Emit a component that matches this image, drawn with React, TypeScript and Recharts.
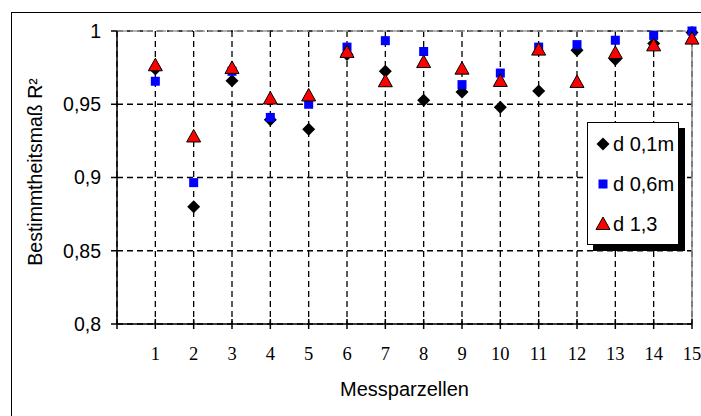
import React from "react";
import {
  CartesianGrid,
  Label,
  Legend,
  ReferenceLine,
  Scatter,
  ScatterChart,
  XAxis,
  YAxis,
} from "recharts";

// Messparzellen 1–15
const plotNumbers = [1, 2, 3, 4, 5, 6, 7, 8, 9, 10, 11, 12, 13, 14, 15];
const xTicks = [0, 1, 2, 3, 4, 5, 6, 7, 8, 9, 10, 11, 12, 13, 14, 15];
const yTicks = [0.8, 0.85, 0.9, 0.95, 1];

// Bestimmtheitsmaß R² je Messhöhe
const r2d01 = [0.974, 0.88, 0.966, 0.9395, 0.933, 0.984, 0.9725, 0.9527, 0.9584, 0.948, 0.959, 0.9868, 0.9805, 0.9914, 0.999];
const r2d06 = [0.9657, 0.8965, 0.9725, 0.941, 0.95, 0.989, 0.9934, 0.986, 0.9634, 0.9713, 0.989, 0.9907, 0.9937, 0.997, 1.0];
const r2d13 = [0.9766, 0.928, 0.9748, 0.9539, 0.956, 0.9857, 0.9657, 0.9788, 0.9743, 0.9659, 0.9873, 0.9652, 0.985, 0.9902, 0.9948];

const sans = '"Liberation Sans", Arial, sans-serif';
const serif = '"Liberation Serif", "Times New Roman", serif';

type MarkerKind = "diamond" | "square" | "triangle";

const series: { name: string; values: number[]; marker: MarkerKind }[] = [
  { name: "d 0,1m", values: r2d01, marker: "diamond" },
  { name: "d 0,6m", values: r2d06, marker: "square" },
  { name: "d 1,3", values: r2d13, marker: "triangle" },
];

const toPoints = (values: number[]) =>
  plotNumbers.map((plot, i) => ({ plot, r2: values[i] }));

function Marker({ kind, cx, cy }: { kind: MarkerKind; cx: number; cy: number }) {
  if (kind === "diamond") {
    return (
      <polygon
        points={`${cx},${cy - 6.5} ${cx + 6.5},${cy} ${cx},${cy + 6.5} ${cx - 6.5},${cy}`}
        fill="#000"
      />
    );
  }
  if (kind === "square") {
    return <rect x={cx - 4.5} y={cy - 4.5} width={9} height={9} fill="#0000ff" />;
  }
  return (
    <polygon
      points={`${cx},${cy - 7} ${cx + 7},${cy + 5.5} ${cx - 7},${cy + 5.5}`}
      fill="#ff0000"
      stroke="#000"
      strokeWidth={1}
    />
  );
}

// x ticks cross the axis line; 0 only gets the mark
function PlotTick(props: any) {
  const { x, y, payload } = props;
  return (
    <g>
      <line x1={x} x2={x} y1={y - 5} y2={y + 5} stroke="#000" strokeWidth={1.5} />
      {payload.value > 0 && (
        <text x={x} y={y + 36} textAnchor="middle" fontFamily={serif} fontSize={18.5} fill="#000">
          {payload.value}
        </text>
      )}
    </g>
  );
}

function LegendBox() {
  return (
    <div
      style={{
        position: "relative",
        width: 92,
        height: 123,
        boxSizing: "border-box",
        border: "1px solid #000",
        background: "#fff",
        boxShadow: "6px 6px 0 #000",
        fontFamily: sans,
        fontSize: 20,
        color: "#000",
      }}
    >
      {series.map((s, i) => (
        <div
          key={s.name}
          style={{
            position: "absolute",
            left: 0,
            top: 9 + i * 40,
            height: 24,
            display: "flex",
            alignItems: "center",
            whiteSpace: "nowrap",
          }}
        >
          <svg width={25} height={24} style={{ display: "block" }}>
            <Marker kind={s.marker} cx={15} cy={12} />
          </svg>
          <span style={{ lineHeight: "24px" }}>{s.name}</span>
        </div>
      ))}
    </div>
  );
}

export default function App() {
  return (
    <div style={{ position: "absolute", left: 0, top: 0, width: 701, height: 416, overflow: "hidden", background: "#fff" }}>
      <div
        style={{
          position: "absolute",
          left: 11,
          top: 12,
          width: 720,
          height: 440,
          border: "1.5px solid #000",
        }}
      />
      <ScatterChart width={701} height={416} margin={{ top: 31, right: 9, bottom: 0, left: 0 }}>
        <CartesianGrid stroke="#000" strokeDasharray="6 4" strokeWidth={1.3} />
        <XAxis
          type="number"
          dataKey="plot"
          domain={[0, 15]}
          ticks={xTicks}
          interval={0}
          height={92}
          tickSize={0}
          tickMargin={0}
          tickLine={false}
          tick={<PlotTick />}
          stroke="#000"
          strokeWidth={1.5}
        >
          <Label
            value="Messparzellen"
            position="insideBottom"
            offset={20}
            style={{ fontFamily: sans, fontSize: 20, fill: "#000" }}
          />
        </XAxis>
        <YAxis
          type="number"
          dataKey="r2"
          domain={[0.8, 1]}
          ticks={yTicks}
          interval={0}
          width={117}
          tickSize={6}
          tickMargin={10}
          tickFormatter={(v: number) => String(v).replace(".", ",")}
          tick={{ fontFamily: sans, fontSize: 19.5, fill: "#000" }}
          stroke="#000"
          strokeWidth={1.5}
        >
          <Label
            content={() => (
              <text
                x={42}
                y={172}
                transform="rotate(-90 42 172)"
                textAnchor="middle"
                fontFamily={sans}
                fontSize={19.5}
                fill="#000"
              >
                Bestimmtheitsmaß R²
              </text>
            )}
          />
        </YAxis>
        <ReferenceLine y={1} stroke="#9a9a9a" strokeWidth={1.5} strokeDasharray="10 3" />
        <ReferenceLine x={15} stroke="#8a8a8a" strokeWidth={1.5} />
        <Legend
          layout="vertical"
          align="center"
          verticalAlign="middle"
          wrapperStyle={{ left: 587, top: 122, width: 92, height: 123 }}
          content={<LegendBox />}
        />
        {series.map((s) => (
          <Scatter
            key={s.name}
            name={s.name}
            data={toPoints(s.values)}
            isAnimationActive={false}
            shape={(p: any) => <Marker kind={s.marker} cx={p.cx} cy={p.cy} />}
          />
        ))}
      </ScatterChart>
    </div>
  );
}
